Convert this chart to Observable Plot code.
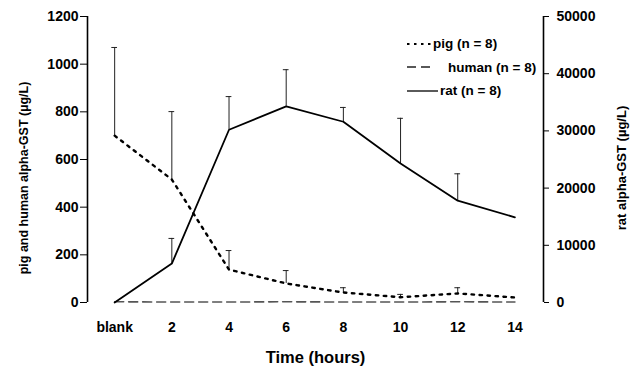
<!DOCTYPE html>
<html>
<head>
<meta charset="utf-8">
<script src="https://cdn.jsdelivr.net/npm/d3@7"></script>
<script src="https://cdn.jsdelivr.net/npm/@observablehq/plot@0.6"></script>
<style>
  html, body { margin: 0; padding: 0; background: #fff; }
  #wrap { position: relative; width: 640px; height: 377px; font-family: "Liberation Sans", Arial, sans-serif; font-weight: bold; color: #000; }
  #legend { position: absolute; left: 407px; top: 32px; font-size: 13.5px; }
  #legend .row { display: flex; align-items: center; height: 23.5px; white-space: nowrap; }
  #legend svg { display: block; }
  .ytitle { position: absolute; white-space: nowrap; transform: translate(-50%, -50%) rotate(-90deg); line-height: 1; }
  #ytitleL { left: 24px; top: 178px; font-size: 12.5px; }
  #ytitleR { left: 621px; top: 168px; font-size: 13px; }
</style>
</head>
<body>
<div id="wrap">
  <div id="legend"></div>
  <div class="ytitle" id="ytitleL"></div>
  <div class="ytitle" id="ytitleR"></div>
</div>
<script>
// ---- data ----
const times = [0, 2, 4, 6, 8, 10, 12, 14];
const timeLabels = ["blank", "2", "4", "6", "8", "10", "12", "14"];
const pig = [700, 516, 138, 80, 42, 22, 38, 21];
const pigUpper = [1070, 801, 218, 134, 62, 34, 62, null];
const human = [3, 2, 2, 3, 2, 2, 3, 2];
const rat = [0, 6800, 30200, 34300, 31600, 24300, 17800, 14900];
const ratUpper = [null, 11200, 36000, 40700, 34100, 32200, 22500, null];
const leftTicks = [0, 200, 400, 600, 800, 1000, 1200];
const rightTicks = [0, 10000, 20000, 30000, 40000, 50000];
const seriesNames = ["pig (n = 8)", "human (n = 8)", "rat (n = 8)"];
const xTitle = "Time (hours)";
const yTitleLeft = "pig and human alpha-GST (µg/L)";
const yTitleRight = "rat alpha-GST (µg/L)";

// ---- scales ----
const leftMax = 1200, rightMax = 50000;
const toLeft = v => v * leftMax / rightMax;
const xDomain = [-0.95, 15];

const rows = times.map((t, i) => ({
  t, pig: pig[i], pigU: pigUpper[i], human: human[i],
  rat: toLeft(rat[i]), ratU: ratUpper[i] == null ? null : toLeft(ratUpper[i])
}));
const pigErr = rows.filter(d => d.pigU != null);
const ratErr = rows.filter(d => d.ratU != null);
const capHalf = 0.1;

const font = '"Liberation Sans", Arial, sans-serif';

const chart = Plot.plot({
  width: 640,
  height: 377,
  marginLeft: 87,
  marginRight: 97,
  marginTop: 16,
  marginBottom: 75,
  style: { fontFamily: font, fontWeight: "bold", fontSize: "14px", color: "#000", background: "#fff" },
  x: { domain: xDomain },
  y: { domain: [0, leftMax] },
  marks: [
    Plot.ruleX([xDomain[0], xDomain[1]], { y1: 0, y2: leftMax, strokeWidth: 1.6 }),
    Plot.axisY(leftTicks, { anchor: "left", tickSize: 7, tickPadding: 2, label: null, tickFormat: d => String(d) }),
    Plot.axisY(rightTicks.map(toLeft), { anchor: "right", tickSize: 5, tickPadding: 8, label: null,
      tickFormat: d => String(Math.round(d * rightMax / leftMax)) }),
    Plot.axisX(times, { anchor: "bottom", tickSize: 0, tickPadding: 20, label: null,
      tickFormat: d => timeLabels[times.indexOf(d)] }),
    Plot.text([xTitle], { frameAnchor: "bottom", dy: 60, fontSize: 16.5, fontWeight: "bold" }),
    // error bars
    Plot.ruleX(pigErr, { x: "t", y1: "pig", y2: "pigU", strokeWidth: 1, stroke: "#222" }),
    Plot.ruleY(pigErr, { y: "pigU", x1: d => d.t - capHalf, x2: d => d.t + capHalf, strokeWidth: 1, stroke: "#222" }),
    Plot.ruleX(ratErr, { x: "t", y1: "rat", y2: "ratU", strokeWidth: 1, stroke: "#222" }),
    Plot.ruleY(ratErr, { y: "ratU", x1: d => d.t - capHalf, x2: d => d.t + capHalf, strokeWidth: 1, stroke: "#222" }),
    // lines
    Plot.line(rows, { x: "t", y: "human", stroke: "#555", strokeWidth: 1.6, strokeDasharray: "9,5" }),
    Plot.line(rows, { x: "t", y: "pig", stroke: "#000", strokeWidth: 2.4, strokeDasharray: "2.5,5.5" }),
    Plot.line(rows, { x: "t", y: "rat", stroke: "#000", strokeWidth: 1.8 })
  ]
});

const wrap = document.getElementById("wrap");
wrap.insertBefore(chart, wrap.firstChild);
document.getElementById("ytitleL").textContent = yTitleLeft;
document.getElementById("ytitleR").textContent = yTitleRight;

// legend
const legendStyles = [
  { w: 24, gap: 2, dash: "2.5,4.5", sw: 2.2, stroke: "#000" },
  { w: 28, gap: 13, dash: "9,5", sw: 1.6, stroke: "#222" },
  { w: 31, gap: 2, dash: null, sw: 1.3, stroke: "#000" }
];
const legend = document.getElementById("legend");
seriesNames.forEach((name, i) => {
  const s = legendStyles[i];
  const row = document.createElement("div");
  row.className = "row";
  row.innerHTML = `<svg width="${s.w}" height="8"><line x1="0" x2="${s.w}" y1="4" y2="4" stroke="${s.stroke}" stroke-width="${s.sw}" ${s.dash ? `stroke-dasharray="${s.dash}"` : ""}/></svg><span style="margin-left:${s.gap}px">${name}</span>`;
  legend.appendChild(row);
});
</script>
</body>
</html>
